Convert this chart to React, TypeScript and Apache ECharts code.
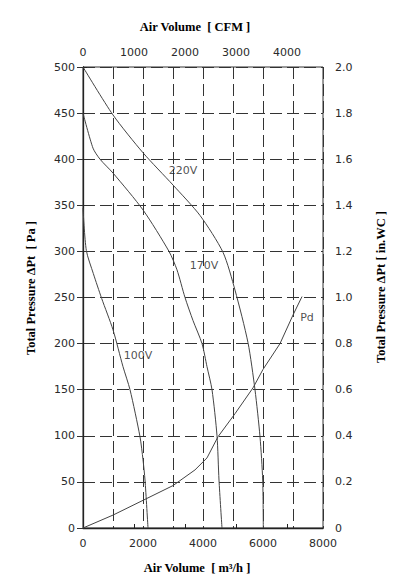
import React, { useEffect, useRef } from "react";
import * as echarts from "echarts";

// Air volume (m³/h) vs total pressure (Pa)
const v220X = [0, 1000, 2000, 3000, 3900, 4667, 5067, 5500, 5733, 5900, 5990, 6010];
const v220Y = [500, 448, 407, 372, 339, 299, 258, 201, 150, 99, 52, 0];

const v170X = [0, 333, 567, 1000, 2000, 2867, 3133, 3400, 3667, 3967, 4133, 4300, 4467, 4533, 4633];
const v170Y = [450, 412, 400, 385, 345, 300, 280, 250, 225, 200, 175, 150, 100, 52, 0];

const v100X = [0, 111, 344, 622, 1000, 1333, 1567, 1900, 2000, 2067, 2167];
const v100Y = [347, 301, 276, 249, 215, 175, 150, 99, 74, 52, 0];

const pdX = [0, 1000, 2000, 3000, 3733, 4133, 4500, 5067, 5667, 6000, 6567, 7000, 7300];
const pdY = [0, 14, 30, 46, 63, 76, 99, 124, 152, 172, 200, 231, 251];

const curveNames = ["220V", "170V", "100V", "Pd"];
const curveLabelX = [3333, 4033, 1833, 7467];
const curveLabelY = [388, 285, 187, 228];

const cfmTicks = [0, 1000, 2000, 3000, 4000];
const m3hMax = 8000;
const cfmMax = 8000 / 1.699;
const paMax = 500;
const inwcMax = 2.0;

const zip = (xs: number[], ys: number[]) => xs.map((x, i) => [x, ys[i]]);

const tickFont = { fontFamily: "DejaVu Sans", fontSize: 11, color: "#2a2a2a" };
const titleFont = {
  fontFamily: "Liberation Serif",
  fontSize: 12.5,
  fontWeight: "bold",
  fill: "#000",
};

export default function App() {
  const ref = useRef<HTMLDivElement>(null);
  useEffect(() => {
    if (!ref.current) return;
    const chart = echarts.init(ref.current, undefined, { renderer: "svg" });
    const lineStyle = { color: "#444", width: 1 };
    const mkLine = (xs: number[], ys: number[]) => ({
      type: "line",
      data: zip(xs, ys),
      showSymbol: false,
      smooth: 0.25,
      lineStyle,
      itemStyle: { color: "#444" },
      xAxisIndex: 0,
      yAxisIndex: 0,
      silent: true,
    });
    chart.setOption({
      animation: false,
      backgroundColor: "#fff",
      grid: {
        left: 83,
        right: 74,
        top: 67,
        bottom: 60,
        show: true,
        borderColor: "#333",
        borderWidth: 1,
      },
      xAxis: [
        {
          type: "value",
          position: "bottom",
          min: 0,
          max: m3hMax,
          interval: 1000,
          axisLine: { show: true, lineStyle: { color: "#333" } },
          axisTick: { show: false },
          axisLabel: {
            ...tickFont,
            margin: 10,
            formatter: (v: number) => (v % 2000 === 0 ? String(v) : ""),
          },
          splitLine: {
            show: true,
            lineStyle: { color: "#333", width: 1, type: [12, 5] },
          },
        },
        {
          type: "value",
          position: "top",
          offset: 5,
          min: 0,
          max: cfmMax,
          axisLine: { show: true, lineStyle: { color: "#222", width: 1.3 } },
          axisTick: { show: true, length: 4, customValues: cfmTicks, lineStyle: { color: "#222" } },
          axisLabel: {
            ...tickFont,
            margin: 4,
            customValues: cfmTicks,
            formatter: (v: number) => String(Math.round(v)),
          },
          splitLine: { show: false },
        },
      ],
      yAxis: [
        {
          type: "value",
          position: "left",
          min: 0,
          max: paMax,
          interval: 50,
          axisLine: { show: true, lineStyle: { color: "#333" } },
          axisTick: { show: true, length: 6, lineStyle: { color: "#333" } },
          axisLabel: { ...tickFont, margin: 8 },
          splitLine: {
            show: true,
            lineStyle: { color: "#333", width: 1, type: [12, 5] },
          },
        },
        {
          type: "value",
          position: "right",
          offset: 6,
          min: 0,
          max: inwcMax,
          interval: 0.2,
          axisLine: { show: true, lineStyle: { color: "#222", width: 1.3 } },
          axisTick: { show: true, length: 4, customValues: [0, inwcMax], lineStyle: { color: "#222" } },
          axisLabel: {
            ...tickFont,
            margin: 6,
            formatter: (v: number) => (v === 0 ? "0" : v.toFixed(1)),
          },
          splitLine: { show: false },
        },
      ],
      series: [
        mkLine(v220X, v220Y),
        mkLine(v170X, v170Y),
        mkLine(v100X, v100Y),
        { ...mkLine(pdX, pdY), smooth: false },
        {
          type: "scatter",
          xAxisIndex: 0,
          yAxisIndex: 0,
          symbolSize: 0,
          silent: true,
          itemStyle: { color: "#222" },
          data: curveNames.map((n, i) => ({ name: n, value: [curveLabelX[i], curveLabelY[i]] })),
          label: {
            show: true,
            position: "inside",
            formatter: "{b}",
            ...tickFont,
            color: "#222",
          },
        },
      ],
      graphic: [
        {
          type: "text",
          x: 195,
          y: 27,
          style: { ...titleFont, text: "Air Volume  [ CFM ]", align: "center", verticalAlign: "middle" },
        },
        {
          type: "text",
          x: 197,
          y: 568,
          style: { ...titleFont, text: "Air Volume  [ m³/h ]", align: "center", verticalAlign: "middle" },
        },
        {
          type: "text",
          x: 31,
          y: 288,
          rotation: Math.PI / 2,
          style: { ...titleFont, text: "Total Pressure ΔPt  [ Pa ]", align: "center", verticalAlign: "middle" },
        },
        {
          type: "text",
          x: 381,
          y: 287,
          rotation: Math.PI / 2,
          style: { ...titleFont, text: "Total Pressure ΔPt [ in.WC ]", align: "center", verticalAlign: "middle" },
        },
      ],
    });
    return () => chart.dispose();
  }, []);
  return (
    <div
      ref={ref}
      style={{ position: "fixed", left: 0, top: 0, width: 397, height: 588, background: "#fff" }}
    />
  );
}
